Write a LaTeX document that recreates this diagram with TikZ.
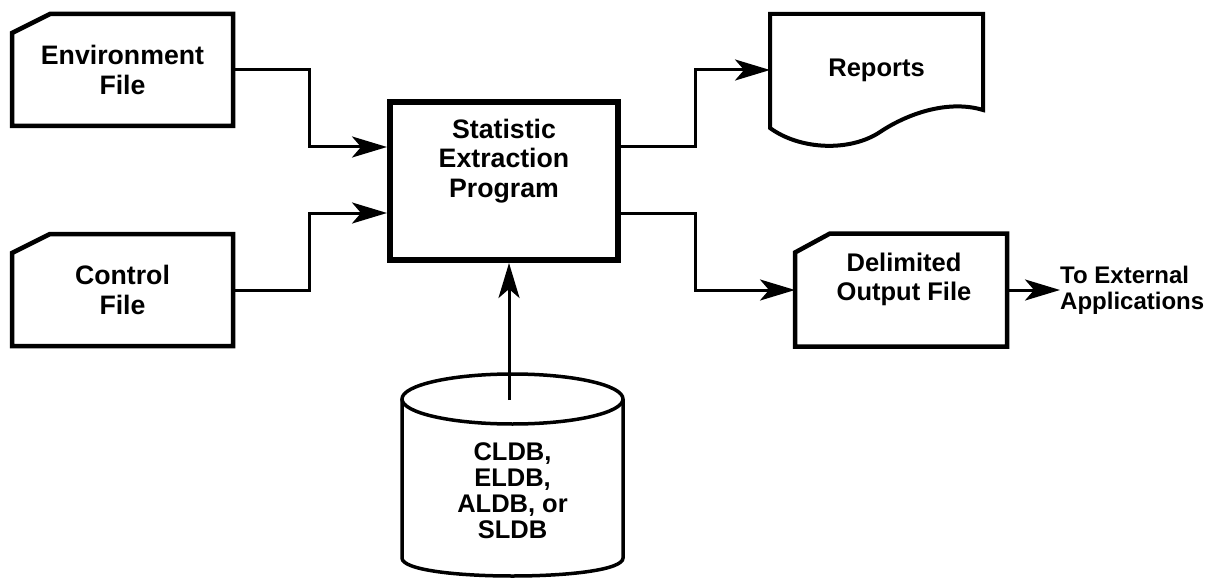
\documentclass[tikz,border=0pt]{standalone}
\usepackage{fontspec}
\setmainfont{Liberation Sans}
\usetikzlibrary{arrows.meta}
\begin{document}
\begin{tikzpicture}[
  x=1pt, y=-1pt,
  lbl/.style={font=\bfseries\fontsize{25.5}{29}\selectfont, align=center, inner sep=0pt, outer sep=0pt},
  biglbl/.style={lbl, font=\bfseries\fontsize{26.7}{29.5}\selectfont},
  filebox/.style={biglbl, minimum width=221pt, minimum height=112pt},
  boxline/.style={line width=4.5pt, line join=miter},
  conn/.style={line width=3pt},
  arr/.style={conn, -{Stealth[length=35pt,width=21pt,inset=9pt]}},
]
\useasboundingbox (0,0) rectangle (1222,580);

% Environment file
\node[filebox] (env) at (122.5,70) {Environment\\File};
\draw[boxline] ([yshift=-19pt]env.north west) -- ([xshift=38pt]env.north west) -- (env.north east) -- (env.south east) -- (env.south west) -- cycle;

% Control file
\node[filebox] (ctrl) at (122.5,290) {Control\\File};
\draw[boxline] ([yshift=-19pt]ctrl.north west) -- ([xshift=38pt]ctrl.north west) -- (ctrl.north east) -- (ctrl.south east) -- (ctrl.south west) -- cycle;

% Main program
\node[draw, line width=6pt, minimum width=228pt, minimum height=158pt] (main) at (504,181) {};
\node[biglbl] (mainlbl) at (504,161) {Statistic\\Extraction\\Program};

% Reports
\node[lbl, minimum width=213pt, minimum height=112pt] (rep) at (876.5,70) {Reports};
\draw[line width=4pt] (770,128) -- (770,14) -- (983,14) -- (983,110)
  .. controls (950,100) and (910,112) .. (880,132)
  .. controls (850,152) and (800,150) .. cycle;

% Delimited output file
\node[lbl, minimum width=212pt, minimum height=113pt] (dof) at (901,290) {};
\node[lbl] (doflbl) at (904,279) {Delimited\\Output File};
\draw[boxline] ([yshift=-19pt]dof.north west) -- ([xshift=35pt]dof.north west) -- (dof.north east) -- (dof.south east) -- (dof.south west) -- cycle;

% External
\node[font=\bfseries\fontsize{24}{26}\selectfont, align=left, anchor=west, inner sep=0pt] (ext) at (1060,290) {To External\\Applications};

% Database cylinder
\draw[line width=3.5pt] (512.5,399) ellipse [x radius=110.5pt, y radius=25pt];
\draw[line width=3.5pt] (402,399) -- (402,558) .. controls (402,582) and (623,582) .. (623,558) -- (623,399);
\node[lbl, font=\bfseries\fontsize{25.5}{26}\selectfont] (db) at (512.5,491) {CLDB,\\ELDB,\\ALDB, or\\SLDB};
\coordinate (dbtop) at (509,400);

% Connectors
\draw[arr] (env.east) -- ++(76pt,0) |- (main.west |- 0,147);
\draw[arr] (ctrl.east) -- ++(76pt,0) |- (main.west |- 0,213);
\draw[arr] (main.east |- 0,147) -- ++(74pt,0) |- (rep.west);
\draw[arr] (main.east |- 0,213) -- ++(74pt,0) |- (dof.west);
\draw[arr] (dof.east) -- (ext.west);
\draw[arr] (dbtop) -- (dbtop |- main.south);
\end{tikzpicture}
\end{document}
